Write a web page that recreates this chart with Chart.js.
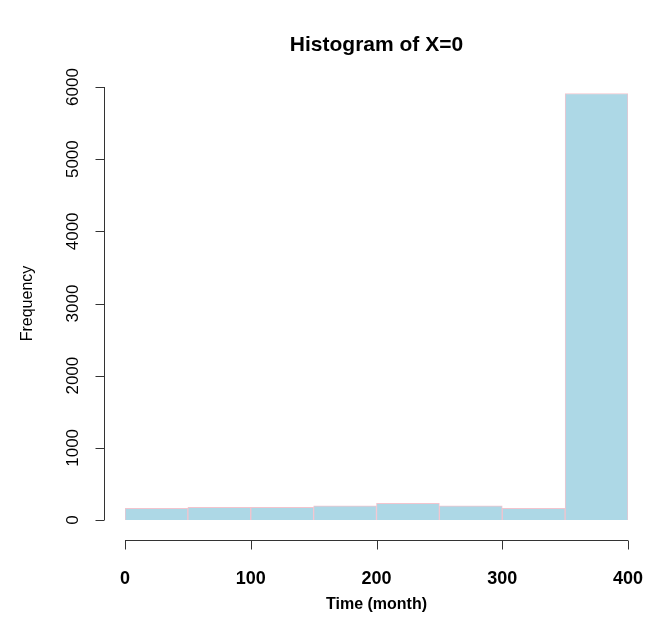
<!DOCTYPE html>
<html>
<head>
<meta charset="utf-8">
<script src="https://cdn.jsdelivr.net/npm/chart.js@4.4.0/dist/chart.umd.min.js"></script>
<style>
  html, body { margin: 0; padding: 0; background: #fff; }
  #wrap { width: 649px; height: 644px; }
</style>
</head>
<body>
<div id="wrap"><canvas id="histChart"></canvas></div>
<script>
    // histogram bins (month), counts
    const binStarts = [0, 50, 100, 150, 200, 250, 300, 350];
    const binWidth = 50;
    const counts = [160, 175, 175, 197, 230, 197, 160, 5910];
    const xTicks = [0, 100, 200, 300, 400];
    const yTicks = [0, 1000, 2000, 3000, 4000, 5000, 6000];

    const chartTitle = 'Histogram of X=0';
    const xTitle = 'Time (month)';
    const yTitle = 'Frequency';

    const fontFamily = "'Liberation Sans', Arial, sans-serif";

    // R-style detached axes, drawn from the chart's own scales
    const rAxes = {
        id: 'rAxes',
        afterDraw(chart) {
            const ctx = chart.ctx;
            const area = chart.chartArea;
            const xs = chart.scales.x;
            const ys = chart.scales.y;
            ctx.save();
            ctx.strokeStyle = '#333';
            ctx.lineWidth = 1;
            ctx.fillStyle = '#000';

            // y axis
            const ax = Math.round(area.left - 21) + 0.5;
            const y0 = ys.getPixelForValue(yTicks[0]);
            const y1 = ys.getPixelForValue(yTicks[yTicks.length - 1]);
            ctx.beginPath();
            ctx.moveTo(ax, y0);
            ctx.lineTo(ax, y1);
            yTicks.forEach(function(v) {
                const py = Math.round(ys.getPixelForValue(v)) + 0.5;
                ctx.moveTo(ax, py);
                ctx.lineTo(ax - 9, py);
            });
            ctx.stroke();
            ctx.font = '17px ' + fontFamily;
            ctx.textAlign = 'center';
            ctx.textBaseline = 'middle';
            yTicks.forEach(function(v) {
                const py = ys.getPixelForValue(v);
                ctx.save();
                ctx.translate(ax - 31, py);
                ctx.rotate(-Math.PI / 2);
                ctx.fillText(String(v), 0, 0);
                ctx.restore();
            });

            // x axis
            const ay = Math.round(area.bottom + 20) + 0.5;
            const x0 = xs.getPixelForValue(xTicks[0]);
            const x1 = xs.getPixelForValue(xTicks[xTicks.length - 1]);
            ctx.beginPath();
            ctx.moveTo(x0, ay);
            ctx.lineTo(x1, ay);
            xTicks.forEach(function(v) {
                const px = Math.round(xs.getPixelForValue(v)) + 0.5;
                ctx.moveTo(px, ay);
                ctx.lineTo(px, ay + 9);
            });
            ctx.stroke();
            ctx.font = 'bold 18px ' + fontFamily;
            xTicks.forEach(function(v) {
                ctx.fillText(String(v), xs.getPixelForValue(v), ay + 39);
            });

            // titles
            const cx = (area.left + area.right) / 2;
            ctx.font = 'bold 21px ' + fontFamily;
            ctx.fillText(chartTitle, cx, 45);
            ctx.font = 'bold 16px ' + fontFamily;
            ctx.fillText(xTitle, cx, 605);
            ctx.font = '16px ' + fontFamily;
            ctx.save();
            ctx.translate(28, (area.top + area.bottom) / 2);
            ctx.rotate(-Math.PI / 2);
            ctx.fillText(yTitle, 0, 0);
            ctx.restore();
            ctx.restore();
        }
    };

    new Chart(document.getElementById('histChart').getContext('2d'), {
        type: 'bar',
        data: {
            datasets: [{
                label: yTitle,
                data: binStarts.map(function(s, i) {
                    return { x: s + binWidth / 2, y: counts[i] };
                }),
                backgroundColor: '#ADD8E6',
                borderColor: '#F2C4CE',
                borderWidth: 1,
                barPercentage: 1,
                categoryPercentage: 1
            }]
        },
        options: {
            responsive: true,
            maintainAspectRatio: false,
            animation: false,
            layout: {
                padding: { left: 125, right: 21, top: 87, bottom: 124 }
            },
            plugins: {
                legend: { display: false },
                tooltip: { enabled: false }
            },
            scales: {
                x: {
                    type: 'linear',
                    display: false,
                    offset: false,
                    min: xTicks[0],
                    max: xTicks[xTicks.length - 1]
                },
                y: {
                    type: 'linear',
                    display: false,
                    min: yTicks[0],
                    max: yTicks[yTicks.length - 1]
                }
            }
        },
        plugins: [rAxes]
    });
</script>
</body>
</html>
